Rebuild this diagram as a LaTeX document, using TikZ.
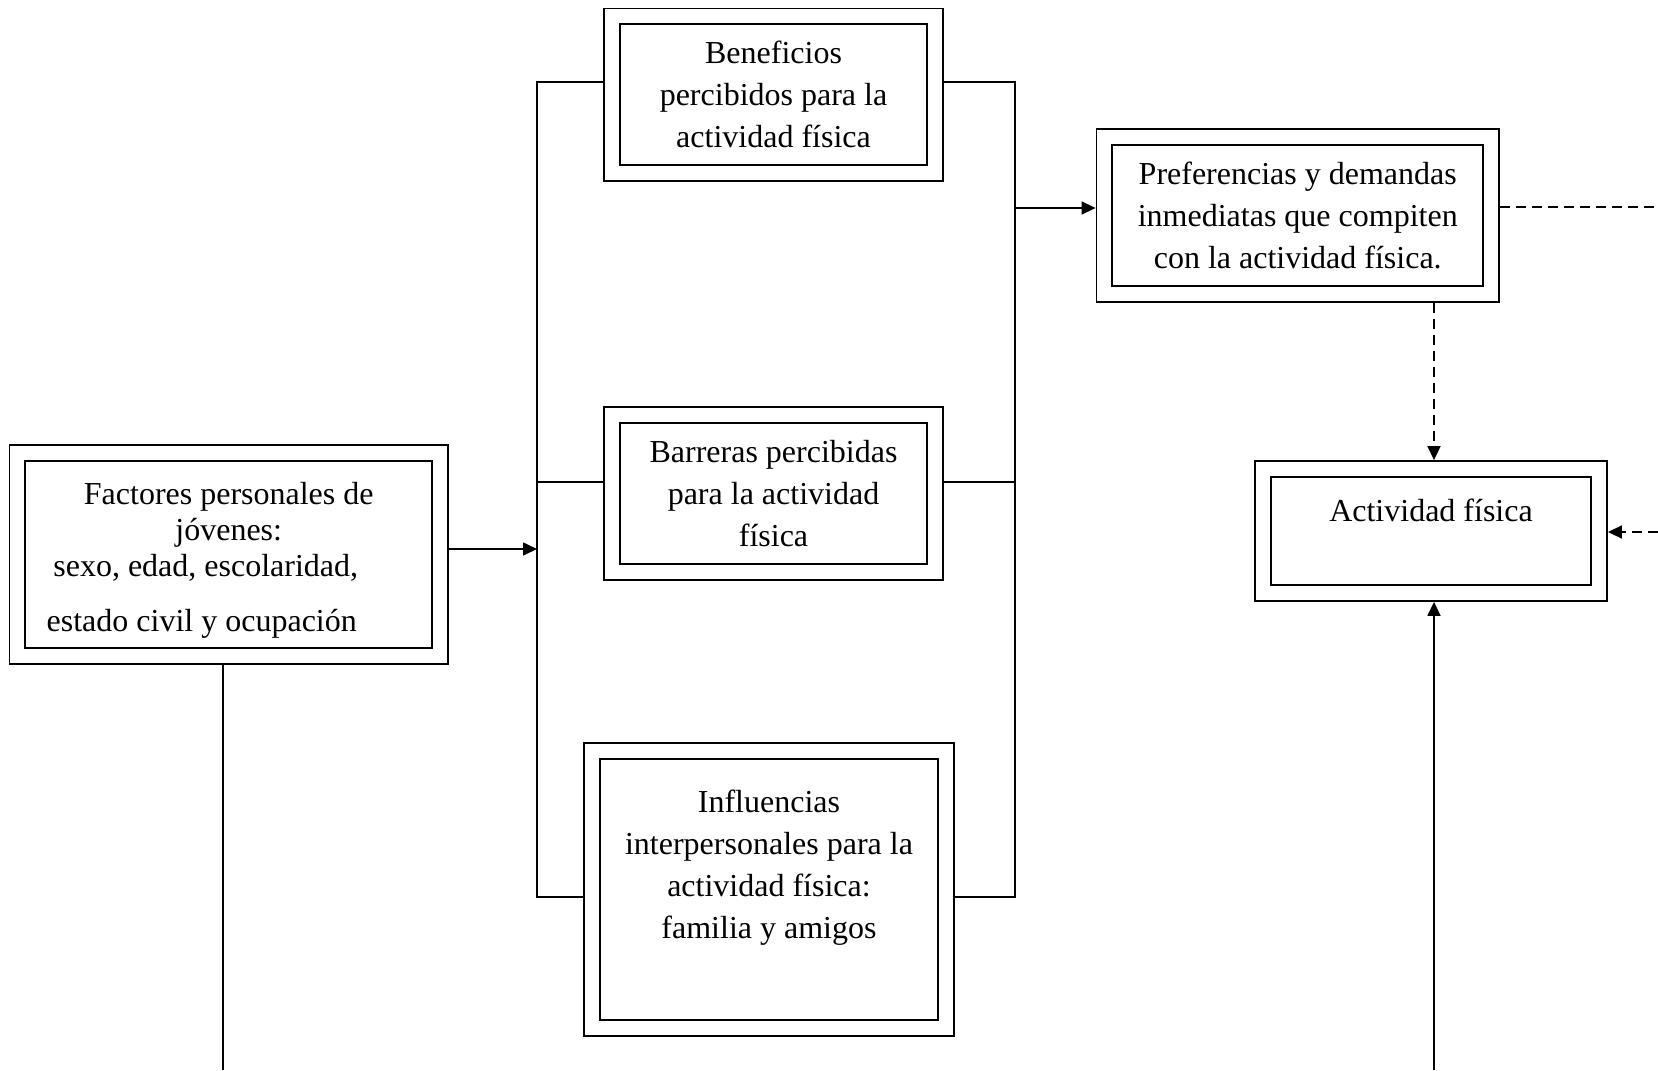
\documentclass[tikz,border=0pt]{standalone}
\usepackage{fontspec}
\setmainfont{Liberation Serif}
\usetikzlibrary{positioning, arrows.meta}

\tikzset{
  box/.style={draw, double, double distance=7pt, line width=0.9pt,
    outer sep=4.4pt, align=center, font=\fontsize{16}{21}\selectfont},
  link/.style={line width=0.8pt},
  dlink/.style={line width=0.8pt, dash pattern=on 5pt off 3pt}
}

\begin{document}
\begin{tikzpicture}[x=0.5pt, y=-0.5pt, >={Triangle[length=7pt,width=6.5pt]}]
  \useasboundingbox (0,0) rectangle (1658,1070);
  % boxes
  \node[box, minimum width=211.4pt, minimum height=101.6pt,
        font=\fontsize{16}{18}\selectfont] (fact) at (228.75,554.5)
    {\rule{0pt}{17pt}Factores personales de\\ jóvenes:\\ sexo, edad, escolaridad,\hspace*{23pt}\mbox{}\\[9.5pt]
     estado civil y ocupación\hspace*{27pt}};
  \node[box, minimum width=161.6pt, minimum height=78.35pt] (bene) at (773.5,94.75)
    {Beneficios\\ percibidos para la\\ actividad física};
  \node[box, minimum width=161.6pt, minimum height=78.6pt] (barr) at (773.5,493.5)
    {Barreras percibidas\\ para la actividad\\ física};
  \node[box, minimum width=177.1pt, minimum height=138.6pt] (infl) at (769,889.5)
    {Influencias\\ interpersonales para la\\ actividad física:\\ familia y amigos\\[4pt]\mbox{}};
  \node[box, minimum width=193.35pt, minimum height=78.6pt] (pref) at (1297.75,215.5)
    {Preferencias y demandas\\ inmediatas que compiten\\ con la actividad física.};
  \node[box, minimum width=168.1pt, minimum height=62.1pt] (act) at (1431,531)
    {Actividad física\\\mbox{}};

  % bus corners and free ends
  \coordinate (lt) at (537,82);
  \coordinate (lb) at (537,897);
  \coordinate (rt) at (1015,82);
  \coordinate (rb) at (1015,897);
  \coordinate (rm) at (1015,208);
  \coordinate (edge1) at (1658,207);
  \coordinate (edge2) at (1658,532);
  \coordinate (botL) at (223,1070);
  \coordinate (botR) at (1434,1070);

  % left bus
  \draw[link] (bene.west |- lt) -- (lt) -- (lb) -- (infl.west |- lb);
  \draw[link] (lt |- 0,482) -- (barr.west |- 0,482);
  \draw[link,->] (fact.east |- 0,549) -- (lt |- 0,549);
  % right bus
  \draw[link] (bene.east |- rt) -- (rt) -- (rb) -- (infl.east |- rb);
  \draw[link] (barr.east |- 0,482) -- (rt |- 0,482);
  \draw[link,->] (rm) -- (rm -| pref.west);
  % towards activity
  \draw[dlink] (pref.east |- edge1) -- (edge1);
  \draw[dlink,->] (botR |- pref.south) -- (botR |- act.north);
  \draw[dlink,->] (edge2) -- (edge2 -| act.east);
  \draw[link,->] (botR) -- (botR |- act.south);
  \draw[link] (botL |- fact.south) -- (botL);
\end{tikzpicture}
\end{document}
